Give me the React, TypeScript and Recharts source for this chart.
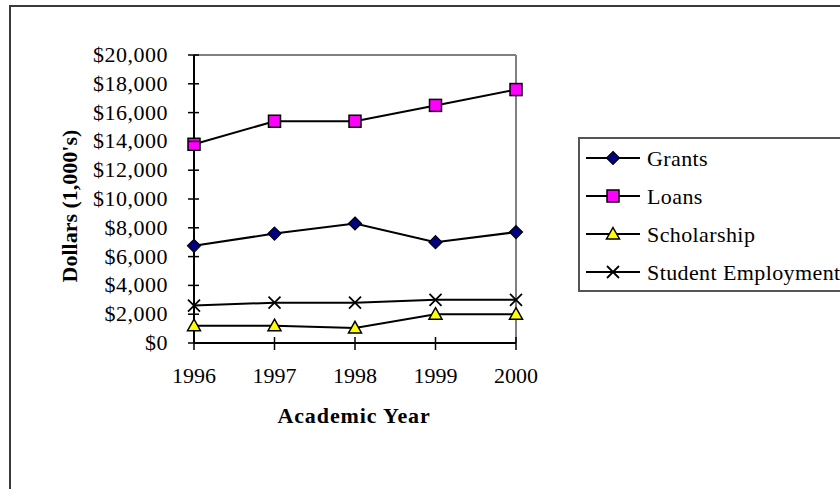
import React from "react";
import {
  LineChart,
  Line,
  XAxis,
  YAxis,
  ReferenceLine,
  Label,
} from "recharts";

const years = ["1996", "1997", "1998", "1999", "2000"];
const grants = [6750, 7600, 8300, 7000, 7700];
const loans = [13800, 15400, 15400, 16500, 17600];
const scholarship = [1200, 1200, 1050, 2000, 2000];
const studentEmployment = [2600, 2800, 2800, 3000, 3000];
const yTicks = [0, 2000, 4000, 6000, 8000, 10000, 12000, 14000, 16000, 18000, 20000];

const seriesList = [
  { key: "grants", name: "Grants", marker: "diamond" },
  { key: "loans", name: "Loans", marker: "square" },
  { key: "scholarship", name: "Scholarship", marker: "triangle" },
  { key: "studentEmployment", name: "Student Employment", marker: "x" },
];

const data = years.map((year, i) => ({
  year,
  grants: grants[i],
  loans: loans[i],
  scholarship: scholarship[i],
  studentEmployment: studentEmployment[i],
}));

const FONT = "'Liberation Serif', 'Times New Roman', serif";

function Marker({ kind, cx, cy }: { kind: string; cx: number; cy: number }) {
  if (kind === "diamond") {
    return (
      <polygon
        points={`${cx},${cy - 6.5} ${cx + 6.5},${cy} ${cx},${cy + 6.5} ${cx - 6.5},${cy}`}
        fill="#000080"
        stroke="#000"
        strokeWidth={1.2}
      />
    );
  }
  if (kind === "square") {
    return (
      <rect x={cx - 6} y={cy - 6} width={12} height={12} fill="#FF00FF" stroke="#000" strokeWidth={1.5} />
    );
  }
  if (kind === "triangle") {
    return (
      <polygon
        points={`${cx},${cy - 6.5} ${cx + 6.5},${cy + 5} ${cx - 6.5},${cy + 5}`}
        fill="#FFFF00"
        stroke="#000"
        strokeWidth={1.5}
      />
    );
  }
  return (
    <g stroke="#000" strokeWidth={1.8}>
      <line x1={cx - 6} y1={cy - 6} x2={cx + 6} y2={cy + 6} />
      <line x1={cx - 6} y1={cy + 6} x2={cx + 6} y2={cy - 6} />
    </g>
  );
}

const money = (v: number) => "$" + v.toLocaleString("en-US");

function YTick({ x, y, payload }: any) {
  return (
    <g>
      <line x1={x - 6} x2={x + 5} y1={y} y2={y} stroke="#000" strokeWidth={1.5} />
      <text x={x - 26} y={y} dy={7} textAnchor="end" fontFamily={FONT} fontSize={22} letterSpacing={0.5} fill="#000">
        {money(payload.value)}
      </text>
    </g>
  );
}

function XTick({ x, y, payload }: any) {
  return (
    <g>
      <line x1={x} x2={x} y1={y - 6} y2={y + 7} stroke="#000" strokeWidth={1.5} />
      <text x={x} y={y + 40} textAnchor="middle" fontFamily={FONT} fontSize={22} fill="#000">
        {payload.value}
      </text>
    </g>
  );
}

function ChartLegend() {
  return (
    <svg
      width={262}
      height={156}
      style={{ position: "absolute", left: 578, top: 137 }}
    >
      <rect x={1} y={1} width={300} height={153} fill="#fff" stroke="#555" strokeWidth={2} />
      {seriesList.map((s, i) => {
        const cy = 21 + i * 38;
        return (
          <g key={s.key}>
            <line x1={8} x2={62} y1={cy} y2={cy} stroke="#000" strokeWidth={2} />
            <Marker kind={s.marker} cx={35} cy={cy} />
            <text x={69} y={cy + 8} fontFamily={FONT} fontSize={22} letterSpacing={0.4} fill="#000">
              {s.name}
            </text>
          </g>
        );
      })}
    </svg>
  );
}

export default function App() {
  return (
    <div
      style={{
        position: "absolute",
        left: 0,
        top: 0,
        width: 840,
        height: 489,
        overflow: "hidden",
        background: "#fff",
      }}
    >
      <div
        style={{
          position: "absolute",
          left: 9,
          top: 5,
          width: 900,
          height: 600,
          border: "2px solid #3a3a3a",
        }}
      />
      <div style={{ position: "absolute", left: 0, top: 0 }}>
        <LineChart
          width={840}
          height={489}
          data={data}
          margin={{ top: 55, right: 324, bottom: 116, left: 94 }}
        >
          <ReferenceLine y={20000} stroke="#808080" strokeWidth={2} />
          <ReferenceLine x="2000" stroke="#808080" strokeWidth={2} />
          <XAxis
            dataKey="year"
            height={30}
            padding={{ left: 0, right: 0 }}
            axisLine={{ stroke: "#000", strokeWidth: 2 }}
            tickLine={false}
            tickSize={0}
            tickMargin={0}
            tick={<XTick />}
            interval={0}
          >
            <Label
              content={() => (
                <text
                  x={354}
                  y={423}
                  textAnchor="middle"
                  fontFamily={FONT}
                  fontSize={22}
                  fontWeight="bold"
                  letterSpacing={0.9}
                  fill="#000"
                >
                  Academic Year
                </text>
              )}
            />
          </XAxis>
          <YAxis
            width={100}
            domain={[0, 20000]}
            ticks={yTicks}
            interval={0}
            axisLine={{ stroke: "#000", strokeWidth: 2 }}
            tickLine={false}
            tickSize={0}
            tickMargin={0}
            tick={<YTick />}
          >
            <Label
              content={() => (
                <text
                  x={77}
                  y={206}
                  transform="rotate(-90, 77, 206)"
                  textAnchor="middle"
                  fontFamily={FONT}
                  fontSize={22}
                  fontWeight="bold"
                  fill="#000"
                >
                  Dollars (1,000's)
                </text>
              )}
            />
          </YAxis>
          {seriesList.map((s) => (
            <Line
              key={s.key}
              type="linear"
              dataKey={s.key}
              name={s.name}
              stroke="#000"
              strokeWidth={2}
              isAnimationActive={false}
              activeDot={false}
              dot={(p: any) => (
                <Marker key={`${s.key}-${p.index}`} kind={s.marker} cx={p.cx} cy={p.cy} />
              )}
            />
          ))}
        </LineChart>
      </div>
      <ChartLegend />
    </div>
  );
}
